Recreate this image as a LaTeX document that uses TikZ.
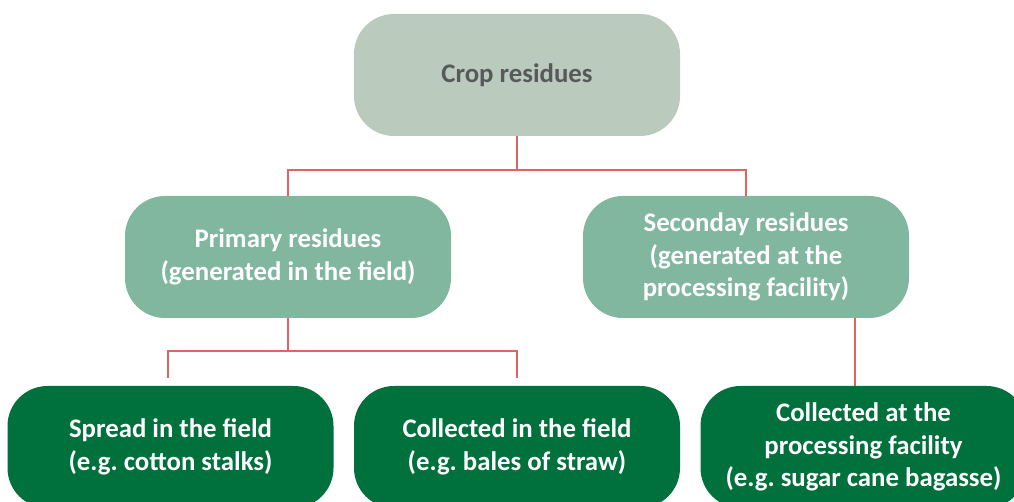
\documentclass[tikz,border=0pt]{standalone}
\usepackage{fontspec}
\setmainfont{Carlito}
\frenchspacing
\definecolor{topgreen}{HTML}{BACBBD}
\definecolor{midgreen}{HTML}{80B79E}
\definecolor{darkgreen}{HTML}{00703C}
\definecolor{linkred}{HTML}{E06464}
\definecolor{textgray}{HTML}{58595B}
\begin{document}
\begin{tikzpicture}[x=0.5pt, y=-0.5pt,
    box/.style={rounded corners=20pt, minimum width=163pt, minimum height=61pt,
        align=center, font=\fontsize{13.4}{16.2}\selectfont\bfseries, inner sep=0pt},
    link/.style={draw=linkred, line width=0.75pt}]
    \useasboundingbox (0,0) rectangle (1014,502);
    \clip (0,0) rectangle (1014,502);
    % levels
    \node[box, fill=topgreen, text=textgray] (crop) at (517,75) {Crop residues};
    \node[box, fill=midgreen, text=white] (prim) at (288,257) {Primary residues\\(generated in the field)};
    \node[box, fill=midgreen, text=white] (sec) at (746,257) {Seconday residues\\(generated at the\\processing facility)};
    \node[box, fill=darkgreen, text=white] (spread) at (170.5,447) {Spread in the field\\(e.g. cotton stalks)};
    \node[box, fill=darkgreen, text=white] (collfield) at (517,447) {Collected in the field\\(e.g. bales of straw)};
    \node[box, fill=darkgreen, text=white] (collproc) at (863.5,447) {Collected at the\\processing facility\\(e.g. sugar cane bagasse)};
    % connectors
    \coordinate (j1) at (517,170);
    \coordinate (j2) at (288,351);
    \coordinate (e1) at (168,378);
    \coordinate (e2) at (517,378);
    \coordinate (s3) at (855,318);
    \draw[link] (crop.south) -- (j1);
    \draw[link] (j1) -| (prim.north);
    \draw[link] (j1) -| (sec.north);
    \draw[link] (prim.south) -- (j2);
    \draw[link] (j2) -| (e1);
    \draw[link] (j2) -| (e2);
    \draw[link] (s3) -- (s3 |- collproc.north);
\end{tikzpicture}
\end{document}
